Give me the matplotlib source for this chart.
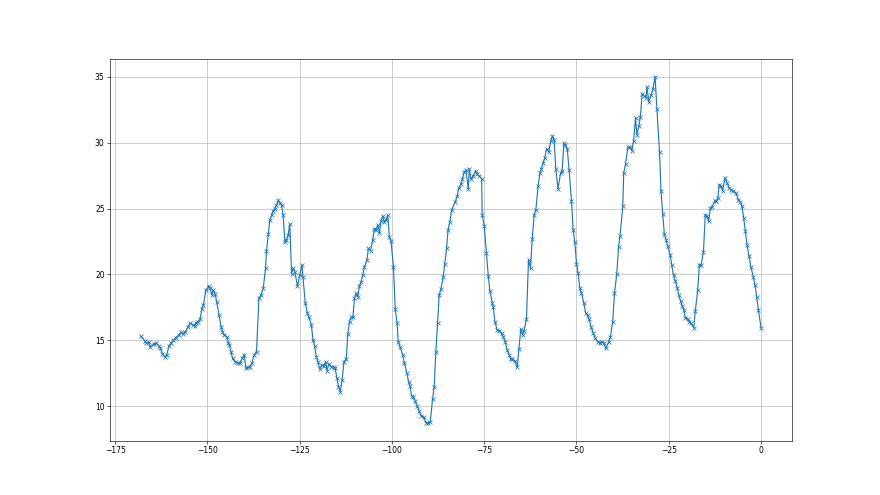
import numpy as np
import matplotlib
matplotlib.use("Agg")
import matplotlib.pyplot as plt

# hours relative to now
hours = [
    -168.0, -167.0, -166.6, -165.9, -165.5, -164.6, -164.0, -163.2, -162.8, -162.2,
    -161.6, -161.0, -160.4, -159.8, -159.2, -158.6, -157.8, -157.2, -156.7, -156.0,
    -155.3, -154.7, -154.0, -153.5, -153.1, -152.6, -152.0, -151.5, -151.1, -150.4,
    -149.7, -149.3, -148.8, -148.4, -147.9, -147.5, -146.85, -146.3, -145.95, -145.4,
    -144.8, -144.3, -144.05, -143.6, -143.2, -142.5, -141.8, -141.2, -140.55, -140.0,
    -139.6, -138.9, -138.5, -138.0, -137.3, -136.7, -136.05, -135.5, -134.9, -134.25,
    -134.0, -133.5, -133.1, -132.6, -132.2, -131.7, -131.3, -130.8, -130.4, -129.9,
    -129.5, -129.0, -128.6, -128.1, -127.7, -127.2, -126.8, -126.3, -125.6, -125.0,
    -124.4, -124.1, -123.5, -122.9, -122.5, -121.85, -121.4, -120.95, -120.5, -120.05,
    -119.6, -119.0, -118.4, -118.0, -117.6, -117.1, -116.45, -115.7, -115.4, -114.9,
    -114.5, -114.0, -113.5, -113.0, -112.4, -111.95, -111.5, -111.05, -110.6, -110.15,
    -109.7, -109.25, -108.8, -108.35, -107.9, -107.45, -106.75, -106.4, -105.8, -105.2,
    -104.75, -104.3, -103.85, -103.4, -102.95, -102.5, -102.05, -101.6, -101.15, -100.7,
    -100.25, -99.6, -99.1, -98.6, -98.3, -97.75, -97.1, -96.65, -96.0, -95.5,
    -95.1, -94.7, -94.2, -93.8, -93.2, -92.6, -92.0, -91.4, -90.8, -90.2,
    -89.6, -89.0, -88.55, -88.1, -87.65, -87.2, -86.75, -86.1, -85.7, -85.2,
    -84.8, -84.3, -83.8, -82.9, -82.3, -81.9, -81.3, -80.9, -80.4, -79.95,
    -79.3, -79.05, -78.6, -78.0, -77.35, -76.9, -76.35, -75.7, -75.55, -75.0,
    -74.4, -73.9, -73.45, -72.8, -72.55, -72.1, -71.5, -70.9, -70.3, -69.85,
    -69.3, -68.8, -68.2, -67.8, -67.35, -66.7, -66.05, -65.6, -65.1, -64.6,
    -64.2, -63.55, -63.0, -62.45, -62.0, -61.45, -61.0, -60.4, -59.9, -59.5,
    -59.0, -58.6, -58.1, -57.5, -56.95, -56.5, -56.05, -55.6, -55.0, -54.3,
    -53.9, -53.4, -53.0, -52.5, -52.0, -51.35, -50.9, -50.45, -50.0, -49.55,
    -49.1, -48.65, -48.0, -47.5, -47.0, -46.6, -46.0, -45.5, -44.9, -44.3,
    -43.7, -43.2, -42.6, -42.1, -41.3, -40.8, -40.2, -39.7, -39.1, -38.6,
    -38.2, -37.45, -37.2, -36.7, -36.1, -35.5, -35.0, -34.5, -34.0, -33.65,
    -33.1, -32.7, -32.2, -31.6, -31.15, -30.9, -30.4, -29.8, -29.3, -28.7,
    -28.2, -27.5, -27.1, -26.6, -26.2, -25.7, -25.3, -24.6, -24.2, -23.7,
    -23.2, -22.7, -22.3, -21.8, -21.4, -20.9, -20.5, -19.85, -19.4, -18.95,
    -18.2, -17.8, -17.15, -16.7, -16.25, -15.6, -15.1, -14.6, -14.2, -13.7,
    -13.35, -12.6, -12.2, -11.7, -11.3, -10.85, -10.4, -9.75, -9.2, -8.6,
    -8.1, -7.5, -6.8, -6.15, -5.6, -5.15, -4.7, -4.25, -3.8, -3.2,
    -2.7, -2.1, -1.6, -1.2, -0.7, 0.0,
]

temps = [
    15.3, 14.97, 14.8, 14.85, 14.5, 14.7, 14.8, 14.6, 14.4, 14.0,
    13.75, 13.9, 14.6, 14.8, 15.0, 15.2, 15.4, 15.6, 15.5, 15.65,
    16.0, 16.3, 16.2, 16.1, 16.35, 16.4, 16.6, 17.4, 17.7, 18.8,
    19.1, 18.95, 18.45, 18.8, 18.5, 17.93, 16.92, 16.04, 15.66, 15.4,
    15.28, 14.82, 14.65, 14.14, 13.64, 13.38, 13.3, 13.26, 13.64, 13.9,
    12.88, 12.96, 13.0, 13.26, 13.9, 14.14, 18.18, 18.43, 18.94, 20.45,
    21.77, 23.06, 24.12, 24.5, 24.8, 25.0, 25.25, 25.63, 25.43, 25.25,
    24.5, 22.47, 22.6, 22.98, 23.86, 20.07, 20.45, 20.2, 19.1, 19.95,
    20.7, 19.77, 17.85, 17.05, 16.74, 16.2, 15.03, 14.57, 13.76, 13.38,
    12.83, 13.13, 13.05, 13.38, 12.7, 13.2, 13.0, 12.95, 12.88, 12.12,
    11.49, 11.11, 12.0, 13.38, 13.56, 15.48, 16.41, 16.74, 16.74, 18.18,
    18.56, 18.3, 19.12, 19.44, 19.95, 20.58, 21.09, 21.97, 21.8, 22.6,
    23.48, 23.36, 23.74, 23.16, 24.04, 24.42, 24.0, 24.12, 24.5, 22.85,
    22.55, 20.58, 17.35, 16.29, 14.9, 14.47, 13.89, 13.31, 12.55, 11.87,
    11.54, 10.8, 10.68, 10.43, 10.03, 9.6, 9.27, 9.17, 8.76, 8.71,
    8.84, 10.53, 11.49, 14.14, 16.29, 18.43, 18.86, 19.82, 20.78, 21.97,
    23.36, 23.99, 24.92, 25.48, 25.94, 26.57, 26.83, 27.26, 27.77, 27.92,
    26.45, 28.0, 27.26, 27.46, 27.84, 27.59, 27.46, 27.26, 24.54, 23.71,
    21.62, 19.9, 18.71, 17.82, 17.51, 16.42, 15.79, 15.74, 15.53, 15.28,
    14.9, 14.26, 13.88, 13.55, 13.55, 13.45, 12.94, 14.31, 15.84, 15.41,
    15.74, 16.6, 21.12, 20.48, 22.69, 24.54, 24.92, 26.7, 27.72, 28.02,
    28.48, 28.86, 29.54, 29.31, 30.13, 30.51, 30.2, 27.97, 26.5, 27.72,
    27.84, 29.95, 29.8, 29.54, 27.92, 25.56, 23.4, 22.44, 20.81, 20.1,
    18.96, 18.58, 17.82, 17.06, 16.93, 16.6, 15.99, 15.58, 15.15, 14.9,
    14.82, 14.9, 14.82, 14.39, 14.85, 15.28, 16.37, 18.57, 20.0, 22.05,
    22.93, 25.16, 27.7, 28.38, 29.65, 29.65, 29.4, 30.16, 31.88, 30.61,
    31.25, 31.93, 33.7, 33.53, 33.4, 34.21, 33.1, 33.6, 34.04, 35.0,
    32.52, 29.3, 26.36, 24.58, 23.06, 22.63, 22.12, 21.49, 20.73, 19.92,
    19.51, 19.0, 18.45, 17.99, 17.64, 17.31, 16.72, 16.62, 16.37, 16.29,
    15.96, 17.23, 18.83, 20.73, 20.68, 21.69, 24.53, 24.4, 24.02, 25.04,
    25.09, 25.55, 25.55, 25.8, 26.81, 26.69, 26.36, 27.32, 26.94, 26.56,
    26.43, 26.31, 26.18, 25.67, 25.49, 25.16, 24.28, 23.31, 22.25, 21.36,
    20.53, 19.84, 19.16, 18.32, 17.31, 15.96,
]

x = np.array(hours)
y = np.array(temps)

fig = plt.figure(figsize=(16, 9), dpi=55)
plt.plot(x, y, marker='x')
plt.grid(True)

plt.savefig("out.png", dpi=55)
